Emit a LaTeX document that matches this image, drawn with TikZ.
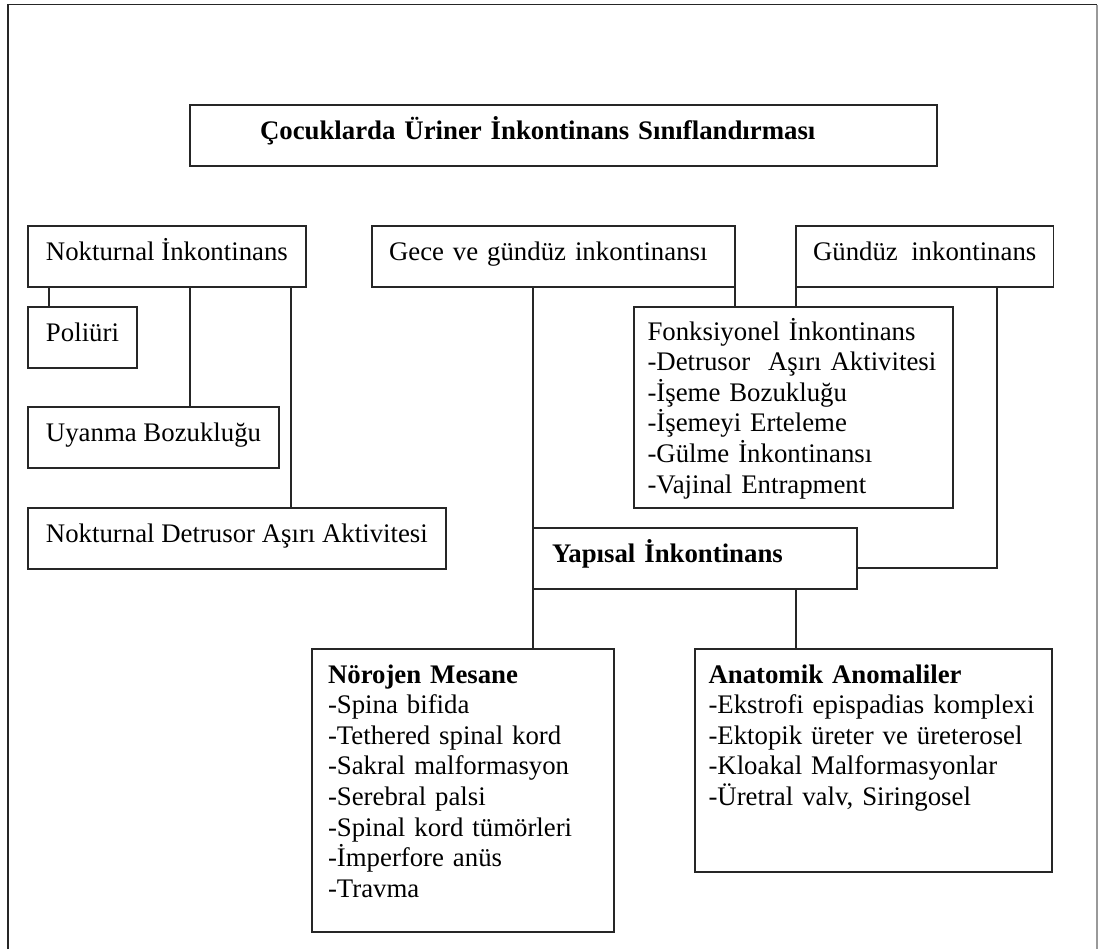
\documentclass[tikz,border=0pt]{standalone}
\usepackage{fontspec}
\setmainfont{Liberation Serif}
\tikzset{
	box/.style={draw=black!85, line width=0.75pt, outer sep=0pt, anchor=north west,
		inner xsep=9pt, inner ysep=0pt, text height=17pt, text depth=13.5pt,
		font=\fontsize{13.4pt}{15.3pt}\selectfont},
	col/.style={align=left, text width=#1},
	link/.style={draw=black!85, line width=0.75pt}
}
\begin{document}
\begin{tikzpicture}[x=0.5pt,y=-0.5pt]
	\useasboundingbox (0,0) rectangle (1098,949);
	\draw[link] (8,949) -- (8,4.5) -- (1097,4.5);
	\draw[link, draw=black!40] (1097,4.5) -- (1097,949);

	\node[box, col=303.5pt, inner xsep=35pt, font=\fontsize{13.4pt}{15.3pt}\selectfont\bfseries] (title) at (190,105) {Çocuklarda Üriner İnkontinans Sınıflandırması};

	\node[box] (noct) at (28,226) {Nokturnal İnkontinans};
	\node[box, col=164.5pt, inner xsep=8.5pt] (gece) at (372,226) {Gece ve gündüz inkontinansı};
	\node[box, inner xsep=8.5pt] (gund) at (796,226) {Gündüz\ \ inkontinans};

	\foreach \name/\y/\txt in {poli/307/Poliüri, uyan/407/Uyanma Bozukluğu, ndaa/508/Nokturnal Detrusor Aşırı Aktivitesi}
		\node[box] (\name) at (28,\y) {\txt};
	\foreach \name/\dx in {poli/10.5pt, uyan/81pt, ndaa/131.5pt}
		\draw[link] ([xshift=\dx]noct.south west) -- ([xshift=\dx]\name.north west);

	\node[box, col=146pt, inner xsep=6.75pt, text height=16.5pt, text depth=84pt] (fonk) at (634,307)
		{Fonksiyonel İnkontinans\\-Detrusor~~Aşırı~Aktivitesi\\-İşeme Bozukluğu\\-İşemeyi Erteleme\\-Gülme İnkontinansı\\-Vajinal Entrapment};
	\node[box, col=143pt, inner xsep=9.5pt, font=\fontsize{13.4pt}{15.3pt}\selectfont\bfseries] (yap) at (533,528) {Yapısal İnkontinans};

	\node[box, col=135pt, inner xsep=8pt, text depth=124.5pt] (noro) at (312,649)
		{\textbf{Nörojen Mesane}\\-Spina bifida\\-Tethered spinal kord\\-Sakral malformasyon\\-Serebral palsi\\-Spinal kord tümörleri\\-İmperfore anüs\\-Travma};
	\node[box, col=165pt, inner xsep=6.75pt, text depth=94.5pt] (anat) at (695,649)
		{\textbf{Anatomik Anomaliler}\\-Ekstrofi~epispadias~komplexi\\-Ektopik üreter ve üreterosel\\-Kloakal Malformasyonlar\\-Üretral valv, Siringosel};

	\draw[link] (gece.south east) -- (gece.south east |- fonk.north);
	\draw[link] (gund.south west) -- (gund.south west |- fonk.north);
	\draw[link] (gece.south -| yap.west) -- (yap.north west);
	\draw[link] (yap.south west) -- (yap.south west |- noro.north);
	\draw[link] ([xshift=36.25pt]gund.south) |- ([yshift=-4.75pt]yap.east);
	\draw[link] (yap.south -| gund.west) -- (anat.north -| gund.west);
\end{tikzpicture}
\end{document}
